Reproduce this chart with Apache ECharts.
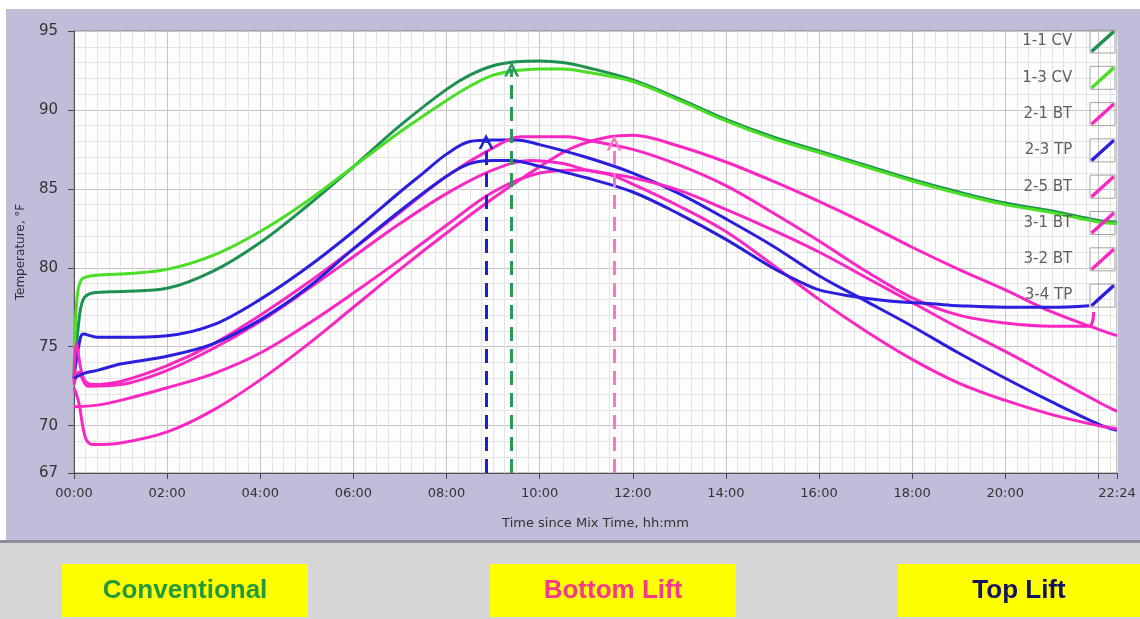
<!DOCTYPE html>
<html>
<head>
<meta charset="utf-8">
<title>Temperature since Mix Time</title>
<script src="https://cdn.jsdelivr.net/npm/echarts@6/dist/echarts.min.js"></script>
<style>
  html, body { margin: 0; padding: 0; background: #fff; }
  #chart { width: 1140px; height: 619px; }
</style>
</head>
<body>
<div id="chart"></div>
<script>
// hours since mix time / temperature in °F
const tCv11 = [0, 0.1, 0.2, 0.4, 1, 2, 3, 4, 5, 6, 7, 8, 8.5, 9, 9.5, 10, 10.5, 11, 12, 13, 14, 15, 16, 17, 18, 19, 20, 21, 22, 22.4];
const vCv11 = [73.0, 76.5, 78.0, 78.4, 78.5, 78.7, 79.8, 81.6, 83.9, 86.4, 89.0, 91.3, 92.2, 92.8, 93.05, 93.1, 93.0, 92.7, 91.9, 90.7, 89.4, 88.3, 87.4, 86.5, 85.6, 84.8, 84.1, 83.6, 83.0, 82.9];

const tCv13 = [0, 0.05, 0.15, 0.4, 1, 2, 3, 4, 5, 6, 7, 8, 8.5, 9, 9.5, 10, 10.5, 11, 12, 13, 14, 15, 16, 17, 18, 19, 20, 21, 22, 22.4];
const vCv13 = [73.0, 77.5, 79.2, 79.5, 79.6, 79.9, 80.8, 82.3, 84.2, 86.4, 88.6, 90.6, 91.5, 92.2, 92.5, 92.6, 92.6, 92.4, 91.8, 90.6, 89.3, 88.2, 87.3, 86.4, 85.5, 84.7, 84.0, 83.5, 82.9, 82.8];

const tBt21 = [0, 0.1, 0.25, 0.4, 1, 2, 3, 4, 5, 6, 7, 8, 9, 10, 10.7, 11.5, 12, 13, 14, 15, 16, 17, 18, 19, 20, 21, 22, 22.4];
const vBt21 = [72.4, 71.5, 69.2, 68.8, 68.9, 69.6, 71.0, 72.9, 75.1, 77.5, 79.9, 82.2, 84.4, 86.4, 87.6, 88.3, 88.4, 87.7, 86.7, 85.5, 84.2, 82.8, 81.3, 79.9, 78.6, 77.2, 76.1, 75.7];

const tTp23 = [0, 0.1, 0.2, 0.5, 1, 2, 3, 4, 5, 6, 7, 7.5, 8, 8.5, 9, 9.5, 10, 11, 12, 13, 14, 15, 16, 17, 18, 19, 20, 21, 22, 22.4];
const vTp23 = [73.0, 75.0, 75.8, 75.6, 75.6, 75.7, 76.4, 78.0, 80.0, 82.3, 84.8, 86.0, 87.2, 88.0, 88.1, 88.1, 87.8, 87.0, 86.0, 84.7, 83.1, 81.4, 79.5, 77.9, 76.3, 74.6, 73.0, 71.5, 70.1, 69.7];

const tBt25 = [0, 0.05, 0.2, 0.4, 1, 2, 3, 4, 5, 6, 7, 8, 9, 9.6, 10.6, 11, 12, 13, 14, 15, 16, 17, 18, 19, 20, 21, 21.8, 21.9];
const vBt25 = [72.8, 75.2, 73.0, 72.6, 72.8, 73.8, 75.2, 77.0, 79.0, 81.2, 83.5, 85.8, 87.6, 88.3, 88.3, 88.1, 87.5, 86.5, 85.2, 83.5, 81.7, 79.8, 78.1, 77.0, 76.5, 76.3, 76.3, 77.2];

const tBt31 = [0, 0.1, 0.3, 1, 2, 3, 4, 5, 6, 7, 8, 9, 9.8, 10.5, 11, 12, 13, 14, 15, 16, 17, 18, 19, 20, 21, 22, 22.4];
const vBt31 = [72.6, 73.4, 72.5, 72.6, 73.5, 74.9, 76.6, 78.6, 80.7, 82.8, 84.7, 86.2, 86.8, 86.6, 86.2, 85.7, 84.9, 83.7, 82.4, 81.0, 79.4, 77.8, 76.2, 74.7, 73.1, 71.5, 70.9];

const tBt32 = [0, 0.5, 1, 2, 3, 4, 5, 6, 7, 8, 9, 10, 10.9, 11.5, 12, 13, 14, 15, 16, 17, 18, 19, 20, 21, 22, 22.4];
const vBt32 = [71.2, 71.3, 71.6, 72.4, 73.3, 74.6, 76.4, 78.4, 80.5, 82.7, 84.8, 86.0, 86.2, 85.9, 85.3, 83.9, 82.3, 80.2, 78.0, 76.0, 74.2, 72.7, 71.6, 70.7, 70.0, 69.8];

const tTp34 = [0, 0.2, 0.5, 1, 2, 3, 4, 5, 6, 7, 8, 8.5, 9, 9.4, 9.9, 11, 12, 13, 14, 15, 15.6, 16, 16.7, 17.5, 18.5, 19, 20, 21, 21.8];
const vTp34 = [73.0, 73.3, 73.5, 73.9, 74.4, 75.2, 76.7, 78.7, 81.2, 83.6, 85.8, 86.6, 86.8, 86.8, 86.5, 85.7, 84.8, 83.4, 81.8, 80.0, 79.1, 78.6, 78.2, 77.9, 77.7, 77.6, 77.5, 77.5, 77.6];

const seriesNames = ['1-1 CV', '1-3 CV', '2-1 BT', '2-3 TP', '2-5 BT', '3-1 BT', '3-2 BT', '3-4 TP'];
const seriesTimes = [tCv11, tCv13, tBt21, tTp23, tBt25, tBt31, tBt32, tTp34];
const seriesTemps = [vCv11, vCv13, vBt21, vTp23, vBt25, vBt31, vBt32, vTp34];

// peak markers (dashed arrows)
const arrowSeries = ['2-3 TP', '1-3 CV', '2-1 BT'];
const arrowTimes = [8.85, 9.4, 11.6];
const arrowTops = [88.0, 92.6, 87.9];

const yTicks = [67, 70, 75, 80, 85, 90, 95];
const xLabelTicks = [0, 2, 4, 6, 8, 10, 12, 14, 16, 18, 20, 22.4];
const xTickMarks = [0, 2, 4, 6, 8, 10, 12, 14, 16, 18, 20, 22, 22.4];
const bottomLabels = ['Conventional', 'Bottom Lift', 'Top Lift'];

const GREEN_DK = '#1f8f52';
const GREEN_LT = '#4ade26';
const PINK = '#fa28c2';
const BLUE = '#2a1fdc';
const colors = [GREEN_DK, GREEN_LT, PINK, BLUE, PINK, PINK, PINK, BLUE];
const arrowColors = ['#1c22c8', '#2a9a58', '#f27cc4'];

const FONT = "'DejaVu Sans', sans-serif";
const MAJOR = '#c4c4c4';
const MINOR = '#e3e3e3';

function hhmm(v) {
  const h = Math.floor(v + 1e-6);
  const m = Math.round((v - h) * 60);
  return String(h).padStart(2, '0') + ':' + String(m).padStart(2, '0');
}

const chart = echarts.init(document.getElementById('chart'));

const series = seriesNames.map((name, i) => {
  const s = {
    name: name,
    type: 'line',
    data: seriesTimes[i].map((t, j) => [t, seriesTemps[i][j]]),
    showSymbol: false,
    smooth: 0.35,
    color: colors[i],
    lineStyle: { width: 3, color: colors[i] },
    z: 3
  };
  const k = arrowSeries.indexOf(name);
  if (k >= 0) {
    s.markLine = {
      silent: true,
      symbol: ['none', 'path://M0,12 L7,0 L14,12 L11.4,12 L7,4.6 L2.6,12 Z'],
      symbolSize: 15,
      label: { show: false },
      lineStyle: { color: arrowColors[k], width: 3, type: [14, 8] },
      data: [[
        { coord: [arrowTimes[k], 67] },
        { coord: [arrowTimes[k], arrowTops[k]] }
      ]]
    };
  }
  return s;
});

// legend layout
const legTop = 30, legRight = 25, legW = 25, legH = 23, legGap = 13.3;

const frames = seriesNames.map((n, i) => ({
  type: 'rect',
  z: 100,
  shape: { x: 1140 - legRight - legW, y: legTop + i * (legH + legGap), width: legW, height: legH },
  style: { fill: 'none', stroke: '#a4a4a4', lineWidth: 1 }
}));

const boxX = [62, 490, 898];
const boxW = [246, 246, 242];
const boxColors = ['#23993a', '#f53a8c', '#14145e'];
const bottomGraphics = [];
bottomLabels.forEach((txt, i) => {
  bottomGraphics.push({
    type: 'rect',
    shape: { x: boxX[i], y: 564, width: boxW[i], height: 53 },
    style: { fill: '#ffff00' }
  });
  bottomGraphics.push({
    type: 'text',
    x: boxX[i] + boxW[i] / 2,
    y: 591,
    style: {
      text: txt,
      fill: boxColors[i],
      font: "bold 26px 'Liberation Sans', Arial, sans-serif",
      align: 'center',
      verticalAlign: 'middle'
    }
  });
});

// hidden axes that only carry the fine background grid (15 min x 1 °F)
const gridXAxis = {
  type: 'value', min: 0, max: 22.4, interval: 0.25, position: 'top',
  axisLine: { show: false }, axisTick: { show: false }, axisLabel: { show: false },
  splitLine: { show: true, lineStyle: { color: [MAJOR, MINOR, MINOR, MINOR, MINOR, MINOR, MINOR, MINOR], width: 1 } }
};
const gridYAxis = {
  type: 'value', min: 67, max: 95, interval: 1, position: 'right',
  axisLine: { show: false }, axisTick: { show: false }, axisLabel: { show: false },
  // ticks start at 67, so every 5th line from 70 up is a major line
  splitLine: { show: true, lineStyle: { color: [MINOR, MINOR, MINOR, MAJOR, MINOR], width: 1 } }
};

const option = {
  animation: false,
  backgroundColor: '#bfbdd8',
  textStyle: { fontFamily: FONT },
  graphic: [
    { type: 'rect', shape: { x: 0, y: 0, width: 1140, height: 9 }, style: { fill: '#ffffff' } },
    { type: 'rect', shape: { x: 0, y: 0, width: 6, height: 541 }, style: { fill: '#ffffff' } },
    { type: 'rect', shape: { x: 0, y: 541, width: 1140, height: 78 }, style: { fill: '#d5d5d5' } },
    { type: 'rect', shape: { x: 0, y: 540, width: 1140, height: 3 }, style: { fill: '#8e8e9c' } }
  ].concat(bottomGraphics, frames),
  grid: {
    left: 74, right: 23, top: 31, bottom: 146,
    show: true,
    backgroundColor: '#fdfdfd',
    borderColor: '#8a8a8a',
    borderWidth: 1
  },
  legend: {
    orient: 'vertical',
    right: legRight,
    top: legTop,
    padding: 0,
    align: 'right',
    itemWidth: legW,
    itemHeight: legH,
    itemGap: legGap,
    selectedMode: false,
    icon: 'path://M2,20 L23,1 L25,3.5 L4,22.5 Z',
    itemStyle: { borderWidth: 0 },
    textStyle: { color: '#5e5e5e', fontSize: 15, fontFamily: FONT, padding: [0, 13, 0, 0] },
    data: seriesNames
  },
  xAxis: [{
    type: 'value',
    min: 0,
    max: 22.4,
    name: 'Time since Mix Time, hh:mm',
    nameLocation: 'middle',
    nameGap: 44,
    nameTextStyle: { color: '#333', fontSize: 13, fontFamily: FONT },
    axisLine: { show: true, lineStyle: { color: '#555', width: 1 } },
    axisTick: { show: true, length: 6, customValues: xTickMarks, lineStyle: { color: '#444' } },
    axisLabel: {
      customValues: xLabelTicks,
      formatter: hhmm,
      color: '#333',
      fontSize: 13,
      margin: 14,
      fontFamily: FONT
    },
    splitLine: { show: false }
  }, gridXAxis],
  yAxis: [{
    type: 'value',
    min: 67,
    max: 95,
    name: 'Temperature, °F',
    nameLocation: 'middle',
    nameGap: 47,
    nameTextStyle: { color: '#333', fontSize: 12, fontFamily: FONT },
    axisLine: { show: true, lineStyle: { color: '#555', width: 1 } },
    axisTick: { show: true, length: 6, customValues: yTicks, lineStyle: { color: '#444' } },
    axisLabel: {
      customValues: yTicks,
      color: '#333',
      fontSize: 15,
      margin: 16,
      fontFamily: FONT
    },
    splitLine: { show: false }
  }, gridYAxis],
  series: series
};

chart.setOption(option);
</script>
</body>
</html>
